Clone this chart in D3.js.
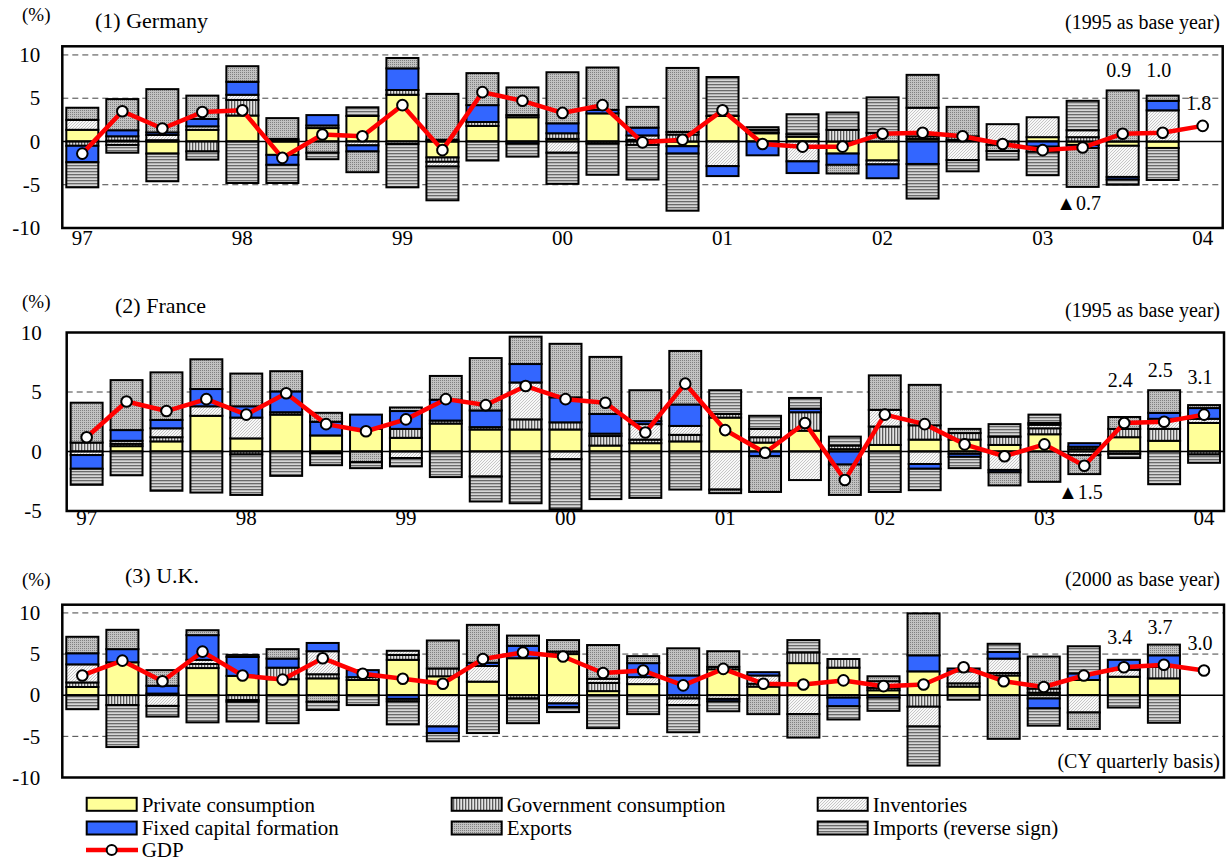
<!DOCTYPE html>
<html>
<head>
<meta charset="utf-8">
<script src="https://cdn.jsdelivr.net/npm/d3@7"></script>
<style>
  body { margin: 0; background: #fff; }
  svg text { font-family: "Liberation Serif", "Times New Roman", serif; fill: #000; }
</style>
</head>
<body>
<div id="chart"></div>
<script>
// Quarterly GDP growth contributions, 97Q1 - 04Q1

const years = ["97", "98", "99", "00", "01", "02", "03", "04"];
const seriesNames = ["Private consumption", "Government consumption", "Inventories",
                     "Fixed capital formation", "Exports", "Imports (reverse sign)"];

// (1) Germany
const dePriv = [1.35, 0.1, -1.4, 1.35, 3.0, -1.55, 1.55, 2.95, 5.4, -1.85, 1.8, 2.8, 0.3, 3.25, 0.2, -0.55, 2.95, 0.95, 0.55, -1.4, -2.2, 0.3, 0.2, 0, 0.5, -0.4, -0.5, -0.75];
const deGov  = [-0.5, 0.5, 0.15, -1.15, 1.8, 0.15, 0, 0, 0.55, -0.5, 0.45, 0, 0.65, -0.25, -0.4, 0.8, 0, 0.1, 0, 1.35, 0, 0.3, 0.4, -0.4, 0, 0.5, 0, 0];
const deInv  = [1.15, -0.4, 0.6, 0.4, 0.6, 0.15, 0.3, -0.45, -0.3, -0.55, 0, 0.25, -1.3, 0, 0.5, 0.3, -2.85, 0, -2.3, 0, -0.45, 3.3, -2.15, 2.0, 2.3, 0.8, -3.6, 3.6];
const deFcf  = [-1.9, 0.7, 0.3, 0.85, 1.5, -1.15, 1.2, -0.7, 2.5, 0.2, 1.95, -0.25, 1.15, 0.4, 0.9, -0.85, -1.15, -1.6, -1.35, -1.3, -1.6, -2.6, 0, 0, -0.6, -0.35, -0.3, 1.1];
const deExp  = [1.4, 3.6, 5.0, 2.7, 1.8, 2.4, -1.3, -2.4, 1.2, 5.3, 3.7, 3.2, 5.9, 4.9, 2.4, 7.4, 0, 0.3, 0.3, -1.0, 1.0, 3.8, 3.4, -0.7, -0.6, -4.5, 5.9, 0.6];
const deImp  = [-2.9, -0.9, -3.2, -0.95, -4.8, -2.1, -0.75, 1.0, -5.0, -3.9, -2.2, -1.5, -3.6, -3.6, -4.0, -6.6, 4.5, 0.3, 2.3, 2.0, 4.1, -4.0, -1.3, -1.0, -2.7, 3.4, -0.6, -3.7];
const deGdp  = [-1.4, 3.5, 1.5, 3.4, 3.6, -1.9, 0.8, 0.6, 4.2, -1.0, 5.7, 4.7, 3.3, 4.2, -0.1, 0.2, 3.6, -0.3, -0.6, -0.6, 0.9, 1.0, 0.6, -0.3, -1.0, -0.7, 0.9, 1.0, 1.8];
const deNotes = [["0.9", 26, 8.3], ["1.0", 27, 8.3], ["1.8", 28, 4.5], ["▲0.7", 25, -7.1]];

// (2) France
const frPriv = [0, 0.45, 0.85, 3.0, 1.1, 3.1, 1.35, 1.9, 1.15, 2.35, 1.85, 1.85, 1.85, 0.5, 0.7, 0.85, 2.85, 0.75, 1.75, 0.2, 0.55, 1.0, 1.0, 0.55, 1.45, 0.2, 1.2, 0.9, 2.4];
const frGov  = [0.75, 0.2, 0.35, 0, -0.25, 0.2, -0.15, 0, 0.75, 0.25, 0.2, 0.85, 0.6, 0.8, 0.3, 0.55, 0.3, 0.45, 1.55, 0.3, 1.55, 1.2, 0.55, 0.7, 0.5, 0.2, 0.7, 1.0, -0.25];
const frInv  = [-0.3, 0.25, 0.75, 0.8, 1.75, 0, 0, 0, -0.55, 0, -2.1, 3.1, -0.65, 0.2, 1.3, 0.75, -3.2, 0.7, -2.4, 0, 1.4, -1.05, -0.2, -1.55, 0.3, -0.3, -0.2, 0.85, 0.35];
const frFcf  = [-1.15, 0.9, 0.7, 1.45, 0.95, 1.75, 1.15, 1.2, 1.5, 1.75, 1.4, 1.55, 2.1, 1.65, 0.25, 1.8, 0, -0.4, 0.3, -1.1, 0, -0.4, -0.25, -0.2, 0.15, 0.3, 0, 0.5, 0.9];
const frExp  = [3.35, 4.2, 4.0, 2.5, 2.75, 1.7, 0.75, -0.9, 0.3, 2.0, 4.4, 2.3, 4.5, 4.8, 2.6, 4.5, -0.3, -3.0, 0, -2.55, 2.9, 3.4, 0.35, -1.1, -2.55, -1.6, 1.0, 1.9, 0.25];
const frImp  = [-1.35, -2.0, -3.3, -3.45, -3.4, -2.05, -1.0, -0.5, -0.7, -2.15, -2.1, -4.35, -4.2, -4.0, -3.9, -3.2, 2.0, 1.1, 0.9, 0.75, -3.4, -1.8, -0.95, 1.05, 0.7, 0, -0.35, -2.75, -0.7];
const frGdp  = [1.2, 4.2, 3.4, 4.4, 3.1, 4.9, 2.3, 1.7, 2.7, 4.4, 3.9, 5.5, 4.4, 4.1, 1.6, 5.7, 1.8, -0.1, 2.4, -2.4, 3.1, 2.3, 0.6, -0.4, 0.6, -1.2, 2.4, 2.5, 3.1];
const frNotes = [["2.4", 26, 6.0], ["2.5", 27, 6.85], ["3.1", 28, 6.25], ["▲1.5", 25, -3.4]];

// (3) U.K.
const ukPriv = [1.0, 4.0, 0.2, 3.3, 2.35, 1.95, 2.05, 1.85, 4.3, 2.3, 1.65, 4.5, 5.0, 0.5, 1.35, 0, 3.15, 1.05, 3.9, 3.35, 0.6, 2.9, 1.05, 2.4, 0.3, 1.85, 2.25, 2.05];
const ukGov  = [0.55, -1.2, 0, 0.5, -0.6, 1.4, 0.5, 0.35, 0.6, 0.95, 0, -0.4, 0.3, 1.0, 0, -0.4, 0.3, 0.35, 1.3, 1.05, 0.3, -1.4, 0.4, 0.3, 0.5, 0, 0, 1.4];
const ukInv  = [2.2, 0, -1.3, 0.5, -0.2, 0, 2.8, 0, 0.5, -3.8, 1.9, 0, -1.0, 0.5, 0.85, -0.8, -0.45, 1.0, -2.3, -0.3, 0.8, -2.4, 1.45, 1.75, -0.4, -2.1, 0.85, 0];
const ukFcf  = [1.35, 1.6, 0.95, 3.0, 2.3, 1.1, 1.0, 0.85, -0.45, -0.8, 0.4, 1.5, -0.45, 0, 1.7, 2.4, -0.3, 0.4, 0, -1.05, -0.3, 1.95, 0.35, 0.8, -1.2, 0.8, 1.2, 1.4];
const ukExp  = [2.0, 2.35, 1.9, 0.6, 0.25, 1.15, -0.8, 0, -0.3, 3.4, 4.6, 1.25, 1.4, 4.1, 0.85, 3.3, 1.9, -2.3, -2.85, 0, 0.6, 5.1, 0, -5.3, 3.9, -2.0, 0, 1.3];
const ukImp  = [-1.7, -5.1, -1.3, -3.3, -2.4, -3.4, -1.0, -1.2, -2.8, -1.0, -4.6, -3.0, -0.6, -4.0, -2.3, -3.3, -1.2, 0, 1.5, -1.6, -1.6, -4.75, -0.55, 1.0, -2.1, 3.3, -1.5, -3.35];
const ukGdp  = [2.4, 4.2, 1.7, 5.3, 2.4, 1.9, 4.5, 2.6, 2.0, 1.4, 4.4, 5.2, 4.7, 2.7, 3.0, 1.2, 3.2, 1.4, 1.3, 1.8, 1.1, 1.3, 3.4, 1.7, 1.0, 2.4, 3.4, 3.7, 3.0];
const ukNotes = [["3.4", 26, 7.1], ["3.7", 27, 8.3], ["3.0", 28, 6.35]];

const width = 1231;
const height = 864;
const keys = ["priv", "gov", "inv", "fcf", "exp", "imp"];
const fills = {priv: "#ffff99", gov: "url(#pGov)", inv: "url(#pInv)",
               fcf: "#3366ff", exp: "url(#pExp)", imp: "url(#pImp)"};

const svg = d3.select("#chart")
  .append("svg")
  .attr("width", width)
  .attr("height", height);

// Fill patterns
const defs = svg.append("defs");

let p = defs.append("pattern").attr("id", "pGov")
  .attr("patternUnits", "userSpaceOnUse").attr("width", 3).attr("height", 3);
p.append("rect").attr("width", 3).attr("height", 3).attr("fill", "#e4e4e4");
p.append("rect").attr("width", 1.3).attr("height", 3).attr("fill", "#5c5c5c");

p = defs.append("pattern").attr("id", "pInv")
  .attr("patternUnits", "userSpaceOnUse").attr("width", 3).attr("height", 3);
p.append("rect").attr("width", 3).attr("height", 3).attr("fill", "#f8f8f8");
p.append("path").attr("d", "M0,3 L3,0 M-1,1 L1,-1 M2,4 L4,2")
  .attr("stroke", "#b0b0b0").attr("stroke-width", 0.7);

p = defs.append("pattern").attr("id", "pExp")
  .attr("patternUnits", "userSpaceOnUse").attr("width", 2).attr("height", 2);
p.append("rect").attr("width", 2).attr("height", 2).attr("fill", "#c2c2c2");
p.append("rect").attr("width", 1).attr("height", 1).attr("fill", "#808080");

p = defs.append("pattern").attr("id", "pImp")
  .attr("patternUnits", "userSpaceOnUse").attr("width", 3).attr("height", 3);
p.append("rect").attr("width", 3).attr("height", 3).attr("fill", "#d6d6d6");
p.append("rect").attr("width", 3).attr("height", 1.3).attr("fill", "#6a6a6a");

const panels = [
  {title: "(1) Germany", base: "(1995 as base year)", frame: [62.3, 46.3, 1222.7, 228],
   yDomain: [-10, 11], ticks: [-10, -5, 0, 5, 10], dashed: [10, 5, -5], tickPad: 22,
   series: [dePriv, deGov, deInv, deFcf, deExp, deImp], gdp: deGdp, notes: deNotes,
   yearAxis: 2, pctY: 21, titleX: 95, titleY: 28, baseY: 29},
  {title: "(2) France", base: "(1995 as base year)", frame: [66.7, 332.5, 1224, 511],
   yDomain: [-5, 10], ticks: [-5, 0, 5, 10], dashed: [5], tickPad: 25,
   series: [frPriv, frGov, frInv, frFcf, frExp, frImp], gdp: frGdp, notes: frNotes,
   yearAxis: -1, pctY: 308, titleX: 115, titleY: 313, baseY: 317},
  {title: "(3) U.K.", base: "(2000 as base year)", frame: [62.3, 604.7, 1224, 777.5],
   yDomain: [-10, 11], ticks: [-10, -5, 0, 5, 10], dashed: [10, 5, -5], tickPad: 22,
   series: [ukPriv, ukGov, ukInv, ukFcf, ukExp, ukImp], gdp: ukGdp, notes: ukNotes,
   yearAxis: null, pctY: 586, titleX: 125, titleY: 583, baseY: 586,
   footer: "(CY quarterly basis)"}
];

function drawPanel(cfg) {
  const [x0, y0, x1, y1] = cfg.frame;
  const n = cfg.gdp.length;

  const xScale = d3.scaleBand()
    .domain(d3.range(n))
    .range([x0, x1])
    .paddingInner(0.2)
    .paddingOuter(0.1);
  const yScale = d3.scaleLinear()
    .domain(cfg.yDomain)
    .range([y1, y0]);
  const cx = i => xScale(i) + xScale.bandwidth() / 2;

  const g = svg.append("g");

  // dashed grid lines
  g.selectAll(".grid")
    .data(cfg.dashed)
    .enter()
    .append("line")
      .attr("x1", x0).attr("x2", x1)
      .attr("y1", d => yScale(d)).attr("y2", d => yScale(d))
      .attr("stroke", "#444").attr("stroke-width", 1)
      .attr("stroke-dasharray", "6,4");

  // stacked contributions
  const rows = cfg.series[0].map((_, i) => {
    const r = {i: i};
    keys.forEach((k, j) => { r[k] = cfg.series[j][i]; });
    return r;
  });
  const stacked = d3.stack().keys(keys).offset(d3.stackOffsetDiverging)(rows);

  stacked.forEach(layer => {
    g.append("g")
      .selectAll("rect")
      .data(layer.filter(d => d[1] !== d[0]))
      .enter()
      .append("rect")
        .attr("x", d => xScale(d.data.i))
        .attr("width", xScale.bandwidth())
        .attr("y", d => yScale(Math.max(d[0], d[1])))
        .attr("height", d => Math.abs(yScale(d[0]) - yScale(d[1])))
        .attr("fill", fills[layer.key])
        .attr("stroke", "#000")
        .attr("stroke-width", 2);
  });

  // zero line
  g.append("line")
    .attr("x1", x0).attr("x2", x1)
    .attr("y1", yScale(0)).attr("y2", yScale(0))
    .attr("stroke", "#000").attr("stroke-width", 1.6);

  // GDP line and markers
  const line = d3.line().x((d, i) => cx(i)).y(d => yScale(d));
  g.append("path")
    .datum(cfg.gdp)
    .attr("d", line)
    .attr("fill", "none")
    .attr("stroke", "#ff0000")
    .attr("stroke-width", 4.5)
    .attr("stroke-linejoin", "round");

  g.selectAll(".gdp")
    .data(cfg.gdp)
    .enter()
    .append("circle")
      .attr("cx", (d, i) => cx(i))
      .attr("cy", d => yScale(d))
      .attr("r", 5.3)
      .attr("fill", "#fff")
      .attr("stroke", "#000")
      .attr("stroke-width", 2);

  // frame
  g.append("rect")
    .attr("x", x0).attr("y", y0)
    .attr("width", x1 - x0).attr("height", y1 - y0)
    .attr("fill", "none").attr("stroke", "#000").attr("stroke-width", 2.5);

  // y axis labels
  g.append("g")
    .attr("transform", `translate(${x0},0)`)
    .call(d3.axisLeft(yScale).tickValues(cfg.ticks).tickSize(0)
            .tickPadding(cfg.tickPad).tickFormat(d => String(d)))
    .call(a => a.select(".domain").remove())
    .selectAll("text")
      .attr("font-size", "21px");

  // year labels
  if (cfg.yearAxis !== null) {
    g.append("g")
      .attr("transform", `translate(0,${y1})`)
      .call(d3.axisBottom(xScale).tickValues(d3.range(0, n, 4)).tickSize(0)
              .tickPadding(cfg.yearAxis).tickFormat(i => years[i / 4]))
      .call(a => a.select(".domain").remove())
      .selectAll("text")
        .attr("font-size", "21px");
  }

  // value notes
  g.selectAll(".note")
    .data(cfg.notes)
    .enter()
    .append("text")
      .attr("x", d => cx(d[1]) - 4)
      .attr("y", d => yScale(d[2]))
      .attr("dy", "0.35em")
      .attr("text-anchor", "middle")
      .attr("font-size", "20px")
      .text(d => d[0]);

  // headings
  svg.append("text").attr("x", 22).attr("y", cfg.pctY)
    .attr("font-size", "19px").text("(%)");
  svg.append("text").attr("x", cfg.titleX).attr("y", cfg.titleY)
    .attr("font-size", "22px").text(cfg.title);
  svg.append("text").attr("x", 1220).attr("y", cfg.baseY)
    .attr("text-anchor", "end").attr("font-size", "20px").text(cfg.base);
  if (cfg.footer) {
    svg.append("text").attr("x", 1220).attr("y", y1 - 10)
      .attr("text-anchor", "end").attr("font-size", "20px").text(cfg.footer);
  }
}

panels.forEach(drawPanel);

// Legend
const legCols = [86.7, 451.7, 817.7];
const legRows = [804.3, 828];
const legW = 50;

const legend = svg.append("g");
keys.forEach((k, j) => {
  const col = j % 3;
  const row = Math.floor(j / 3);
  legend.append("rect")
    .attr("x", legCols[col])
    .attr("y", legRows[row] - 6.5)
    .attr("width", legW)
    .attr("height", 13)
    .attr("fill", fills[k])
    .attr("stroke", "#000")
    .attr("stroke-width", 2);
  legend.append("text")
    .attr("x", legCols[col] + legW + 5)
    .attr("y", legRows[row])
    .attr("dy", "0.35em")
    .attr("font-size", "21px")
    .text(seriesNames[j]);
});

legend.append("line")
  .attr("x1", 86).attr("x2", 138).attr("y1", 850).attr("y2", 850)
  .attr("stroke", "#ff0000").attr("stroke-width", 4.5);
legend.append("circle")
  .attr("cx", 111.7).attr("cy", 850).attr("r", 5)
  .attr("fill", "#fff").attr("stroke", "#000").attr("stroke-width", 2);
legend.append("text")
  .attr("x", 141.7).attr("y", 850).attr("dy", "0.35em")
  .attr("font-size", "21px").text("GDP");
</script>
</body>
</html>
